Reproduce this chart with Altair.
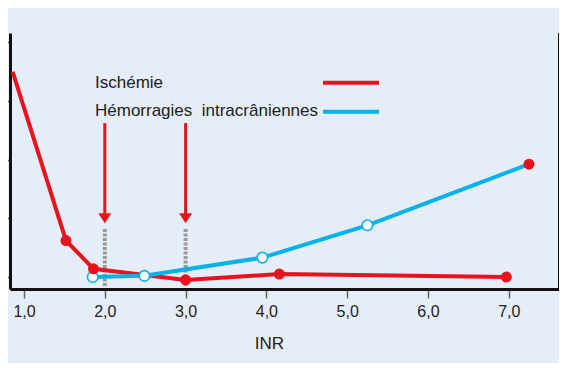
import altair as alt
import pandas as pd

# ---- data ----
isch_inr = [0.86, 1.52, 1.86, 3.0, 4.16, 6.97]
isch_val = [3.49, 0.62, 0.14, -0.05, 0.05, 0.0]
isch_mark = [0, 1, 1, 1, 1, 1]

hem_inr = [1.85, 2.49, 3.95, 5.25, 7.25]
hem_val = [0.0, 0.02, 0.33, 0.88, 1.92]
hem_mark = ["open", "open", "open", "open", "end"]

arrow_inr = [2.0, 3.0]
arrow_from = [2.62, 2.62]
arrow_to = [1.055, 1.055]
arrow_head = [1.0, 1.0]
dot_from = [0.817, 0.817]
dot_to = [-0.153, -0.153]

x_ticks = [1, 2, 3, 4, 5, 6, 7]
y_ticks = [0, 1, 2, 3, 4]
legend_labels = ["Ischémie", "Hémorragies\u00a0 intracrâniennes"]

RED = "#e5141d"
BLUE = "#07b2e8"
BG = "#e5edf8"
FONT = "Liberation Sans"

isch = pd.DataFrame({"inr": isch_inr, "val": isch_val, "mark": isch_mark})
hem = pd.DataFrame({"inr": hem_inr, "val": hem_val, "mark": hem_mark})
arr = pd.DataFrame({"inr": arrow_inr, "a0": arrow_from, "a1": arrow_to,
                    "head": arrow_head, "d0": dot_from, "d1": dot_to})

xs = alt.Scale(domain=[0.8267, 7.6213], nice=False, zero=False)
ys = alt.Scale(domain=[-0.204, 4.153], nice=False, zero=False)

def X(field="inr"):
    return alt.X(f"{field}:Q", scale=xs, axis=alt.Axis(
        values=x_ticks, labelExpr="replace(format(datum.value, '.1f'), '.', ',')",
        title="INR", titleX=259, titleAlign="center", titleAnchor="start",
        grid=False, domainWidth=3, domainColor="#111", tickSize=9,
        tickColor="#666", tickWidth=1.5, labelFontSize=16, labelColor="#222",
        labelFont=FONT, labelPadding=5, titleFont=FONT, titleFontSize=17,
        titleFontWeight="normal", titleColor="#222", titlePadding=16))

def Y(field="val"):
    return alt.Y(f"{field}:Q", scale=ys, axis=alt.Axis(
        values=y_ticks, labels=False, title=None, grid=False, domainWidth=3,
        domainColor="#111", tickSize=9, tickColor="#555", tickWidth=1.5))

dotted = alt.Chart(arr).mark_rule(color="#9a9a9a", strokeWidth=4, strokeDash=[3, 1.5]).encode(
    x=X(), y=Y("d0"), y2="d1")

red_line = alt.Chart(isch).mark_line(color=RED, strokeWidth=4).encode(x=X(), y=Y(), order="inr:Q")
blue_line = alt.Chart(hem).mark_line(color=BLUE, strokeWidth=4).encode(x=X(), y=Y(), order="inr:Q")

blue_pts = alt.Chart(hem).transform_filter("datum.mark == 'open'").mark_point(
    filled=True, fill="white", stroke=BLUE, strokeWidth=1.6, size=110, opacity=1).encode(x=X(), y=Y())
blue_end = alt.Chart(hem).transform_filter("datum.mark == 'end'").mark_circle(
    color=RED, size=120, opacity=1).encode(x=X(), y=Y())
red_pts = alt.Chart(isch).transform_filter("datum.mark == 1").mark_circle(
    color=RED, size=120, opacity=1).encode(x=X(), y=Y())

shaft = alt.Chart(arr).mark_rule(color=RED, strokeWidth=3).encode(x=X(), y=Y("a0"), y2="a1")
head = alt.Chart(arr).mark_point(shape="M-1,-0.77L1,-0.77L0,0.77Z", filled=True, color=RED,
                                 size=169, opacity=1).encode(x=X(), y=Y("head"))

leg = pd.DataFrame({"label": legend_labels, "color": [RED, BLUE], "row": [0, 1]})
leg_text = alt.Chart(leg).mark_text(align="left", baseline="middle", font=FONT, fontSize=17,
                                    color="#222").encode(
    text="label:N",
    x=alt.value(85),
    y=alt.Y("row:Q", scale=alt.Scale(domain=[0, 1], range=[50, 78]), axis=None))
leg_line = alt.Chart(leg).mark_rule(strokeWidth=4).encode(
    x=alt.value(313), x2=alt.value(369),
    y=alt.Y("row:Q", scale=alt.Scale(domain=[0, 1], range=[49.7, 78.7]), axis=None),
    color=alt.Color("color:N", scale=None))

chart = alt.layer(
    dotted, red_line, blue_line, blue_pts, red_pts, blue_end, shaft, head, leg_text, leg_line
).resolve_scale(y="independent").properties(
    width=549, height=256, background=BG,
    autosize=alt.AutoSizeParams(type="none"),
    padding={"left": 2, "top": 25, "right": 0, "bottom": 74},
).configure_view(stroke=None)

chart.save("out.html", embed_options={"renderer": "svg", "actions": False})
